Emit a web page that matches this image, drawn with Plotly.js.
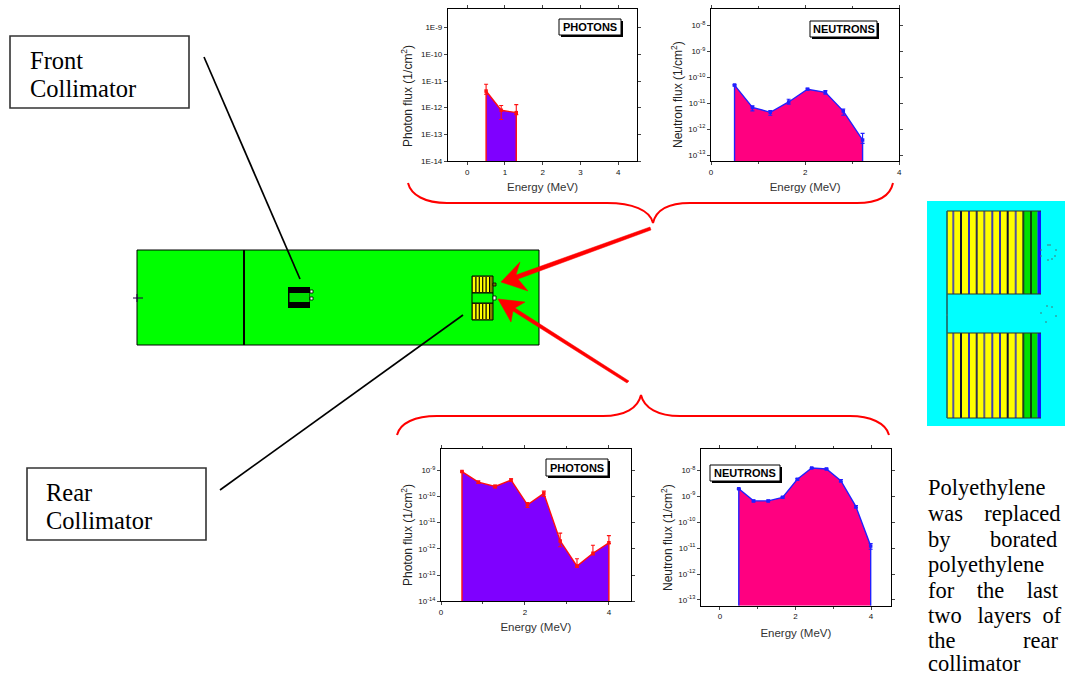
<!DOCTYPE html>
<html>
<head>
<meta charset="utf-8">
<script src="https://cdn.plot.ly/plotly-3.0.1.min.js"></script>
<style>html,body{margin:0;padding:0;background:#fff}#g{width:1066px;height:677px}</style>
</head>
<body>
<div id="g"></div>
<script>
// ---- chart values ----
var frontPhotonE = [0.5, 0.9, 1.3];
var frontPhotonFlux = [4.2e-12, 8e-13, 6.5e-13];
var frontPhotonErrUp = [3.4e-12, 4e-13, 6.5e-13];
var frontPhotonErrDn = [1.0e-12, 4.4e-13, 1e-13];

var frontNeutronE = [0.5, 0.88, 1.26, 1.65, 2.05, 2.43, 2.81, 3.22];
var frontNeutronFlux = [4.9e-11, 6.8e-12, 4.4e-12, 1.1e-11, 3.4e-11, 2.6e-11, 4.9e-12, 3.8e-13];
var frontNeutronErrUp = [3e-12, 1e-12, 7e-13, 3e-12, 3e-12, 4e-12, 1e-12, 3e-13];
var frontNeutronErrDn = [3e-12, 1.8e-12, 1e-12, 2e-12, 3e-12, 4e-12, 1.5e-12, 1e-13];

var rearPhotonE = [0.5, 0.89, 1.29, 1.67, 2.06, 2.45, 2.84, 3.24, 3.62, 4.0];
var rearPhotonFlux = [8.9e-10, 3.5e-10, 2.4e-10, 4.2e-10, 4.8e-11, 1.3e-10, 2e-12, 2.2e-13, 6.8e-13, 1.7e-12];
var rearPhotonErrUp = [5e-11, 4e-11, 3e-11, 5e-11, 1e-11, 3e-11, 2e-12, 2e-13, 7e-13, 1.5e-12];
var rearPhotonErrDn = [5e-11, 4e-11, 3e-11, 5e-11, 1e-11, 3e-11, 0.8e-12, 2e-14, 1e-13, 1e-13];

var rearNeutronE = [0.5, 0.89, 1.28, 1.66, 2.05, 2.43, 2.82, 3.2, 3.6, 3.99];
var rearNeutronFlux = [1.9e-9, 6.5e-10, 6.5e-10, 8.9e-10, 4.4e-9, 1.2e-8, 1.1e-8, 3.9e-9, 3.9e-10, 1.2e-11];
var rearNeutronErr = [1e-10, 5e-11, 5e-11, 6e-11, 3e-10, 6e-10, 6e-10, 4e-10, 4e-11, 3e-12];

var expTicksA = [1e-9, 1e-10, 1e-11, 1e-12, 1e-13, 1e-14];
var expLabelsA = ['1E-9', '1E-10', '1E-11', '1E-12', '1E-13', '1E-14'];
var expTicksB = [1e-8, 1e-9, 1e-10, 1e-11, 1e-12, 1e-13];
var expLabelsB = ['10<sup>-8</sup>', '10<sup>-9</sup>', '10<sup>-10</sup>', '10<sup>-11</sup>', '10<sup>-12</sup>', '10<sup>-13</sup>'];
var expTicksC = [1e-9, 1e-10, 1e-11, 1e-12, 1e-13, 1e-14];
var expLabelsC = ['10<sup>-9</sup>', '10<sup>-10</sup>', '10<sup>-11</sup>', '10<sup>-12</sup>', '10<sup>-13</sup>', '10<sup>-14</sup>'];

var nb = function(n){ return new Array(n + 1).join('\u00A0'); };
var paragraphLines = [
  'Polyethylene',
  'was' + nb(3) + '\u2009replaced',
  'by' + nb(7) + 'borated',
  'polyethylene',
  'for' + nb(4) + 'the' + nb(4) + 'last',
  'two' + nb(2) + '\u2009layers' + nb(2) + 'of',
  'the' + nb(12) + 'rear',
  'collimator'
];

// ---- helpers: page pixels -> paper fractions (margins are 0) ----
var W = 1066, H = 677;
function fx(p){ return p / W; }
function fy(p){ return 1 - p / H; }
function dom0(a, b){ return [fx(a), fx(b)]; }
function domY(top, bot){ return [fy(bot), fy(top)]; }
function path(s){
  var i = 0;
  return s.replace(/-?\d+(\.\d+)?/g, function(n){
    var v = parseFloat(n); var r = (i % 2 === 0) ? fx(v) : fy(v); i++; return r.toFixed(6);
  });
}
var shapes = [], annots = [];
function rect(x0, y0, x1, y1, fill, line, lw){
  shapes.push({type:'rect', xref:'paper', yref:'paper', x0:fx(x0), x1:fx(x1), y0:fy(y0), y1:fy(y1),
    fillcolor:fill, line:{color:line || fill, width: lw === undefined ? 0 : lw}});
}
function seg(x0, y0, x1, y1, color, lw){
  shapes.push({type:'line', xref:'paper', yref:'paper', x0:fx(x0), x1:fx(x1), y0:fy(y0), y1:fy(y1),
    line:{color:color, width:lw}});
}
function curve(d, color, lw, fill){
  var o = {type:'path', xref:'paper', yref:'paper', path:path(d), line:{color:color, width:lw}};
  if (fill) o.fillcolor = fill;
  shapes.push(o);
}
function label(x, y, text, size, family, opts){
  var a = {xref:'paper', yref:'paper', x:fx(x), y:fy(y), text:text, showarrow:false,
    xanchor:'left', yanchor:'middle', font:{family:family, size:size, color:'#000'}, borderpad:0, borderwidth:0};
  for (var k in (opts || {})) a[k] = opts[k];
  annots.push(a);
}

var sans = '"Liberation Sans", Arial, sans-serif';
var serif = '"Liberation Serif", "Times New Roman", serif';

// ---- data traces ----
var traces = [];
function addPanel(id, xs, ys, up, dn, floor, fill, edge){
  var xa = 'x' + id, ya = 'y' + id;
  var ex = [xs[0]].concat(xs, [xs[xs.length - 1]]);
  var ey = [floor].concat(ys, [floor]);
  traces.push({x:ex, y:ey, xaxis:xa, yaxis:ya, mode:'lines', fill:'toself', fillcolor:fill,
    line:{color:edge, width:1.4}, hoverinfo:'skip', showlegend:false});
  traces.push({x:xs, y:ys, xaxis:xa, yaxis:ya, mode:'markers', marker:{color:edge, size:3.5, symbol:'square'},
    error_y:{type:'data', symmetric:false, array:up, arrayminus:dn, color:edge, thickness:1.1, width:2},
    showlegend:false});
}
var purple = '#7F00FF', pink = '#FF0080', red = '#FF1010', blue = '#2020FF';
addPanel('', frontPhotonE, frontPhotonFlux, frontPhotonErrUp, frontPhotonErrDn, 1e-14, purple, red);
addPanel('2', frontNeutronE, frontNeutronFlux, frontNeutronErrUp, frontNeutronErrDn, 5.9e-14, pink, blue);
addPanel('3', rearPhotonE, rearPhotonFlux, rearPhotonErrUp, rearPhotonErrDn, 1e-14, purple, red);
addPanel('4', rearNeutronE, rearNeutronFlux, rearNeutronErr, rearNeutronErr, 6e-14, pink, blue);

function xAxis(a, b, range, dtick, minorTick, anchor, standoff){
  var o = {domain:dom0(a, b), range:range, anchor:anchor, dtick:dtick, tick0:0, ticks:'outside', ticklen:3, tickwidth:1,
    showgrid:false, zeroline:false, showline:true, linecolor:'#000', linewidth:1.2, mirror:'ticks',
    tickfont:{family:sans, size:8, color:'#111'},
    title:{text:'Energy (MeV)', font:{family:sans, size:11.5, color:'#333'}, standoff:standoff}};
  if (minorTick) o.minor = {dtick:minorTick, tick0:0, ticks:'outside', ticklen:2, tickwidth:1, showgrid:false};
  return o;
}
function yAxis(top, bot, range, tv, tt, anchor){
  return {type:'log', domain:domY(top, bot), range:range, anchor:anchor, tickmode:'array', tickvals:tv, ticktext:tt,
    ticks:'outside', ticklen:3, tickwidth:1, showgrid:false, zeroline:false, showline:true, linecolor:'#000', linewidth:1.2, mirror:'ticks',
    tickfont:{family:sans, size:8, color:'#111'}};
}

var pTitle = 'Photon flux (1/cm<sup>2</sup>)', nTitle = 'Neutron flux (1/cm<sup>2</sup>)';
function yTitle(x, y, text){
  label(x, y, text, 12, sans, {textangle:-90, xanchor:'center', yanchor:'middle', font:{family:sans, size:12, color:'#222'}});
}
yTitle(407, 96, pTitle);
yTitle(677, 95, nTitle);
yTitle(407, 535, pTitle);
yTitle(667, 538, nTitle);

// ---- diagram: shielding tunnel ----
rect(137, 250, 539, 345, '#00FF00', '#000', 1);
seg(244, 250, 244, 345, '#000', 2);
seg(133, 298, 143, 298, '#200040', 1);
seg(137, 294, 137, 302, '#200040', 1);

// front collimator
rect(288, 287, 310, 308, '#000');
rect(289.5, 293, 309.5, 302, '#00E000');
rect(310, 290, 313, 293, '#fff', '#000', 0.8);
rect(310, 297, 313, 300, '#fff', '#000', 0.8);

// rear collimator (blocks, stripes, gap)
function rearBlock(t, b){
  rect(472, t, 493, b, '#808000', '#000', 1);
  for (var i = 0; i < 5; i++) rect(473 + i * 3.4, t + 1, 475.4 + i * 3.4, b - 1, '#FFFF00');
  for (var j = 0; j < 5; j++) rect(475.4 + j * 3.4, t + 1, 476.4 + j * 3.4, b - 1, '#000');
}
rearBlock(276, 293);
rearBlock(303, 320);
rect(472, 293, 493, 303, '#00FF00', '#000', 1);
rect(493, 283, 496, 286, '#708000', '#000', 0.8);
rect(493, 296, 496, 300, '#fff', '#000', 0.8);

// leader lines
seg(204, 57, 300, 279, '#000', 1.7);
seg(220, 490, 463, 315, '#000', 1.7);

// callout boxes
rect(10, 36, 189, 108, '#fff', '#333', 1.6);
label(30, 61, 'Front', 24.5, serif);
label(30, 89, 'Collimator', 24.5, serif);
rect(27, 468, 206, 540, '#fff', '#333', 1.6);
label(46, 492, 'Rear', 24.5, serif);
label(46, 520, 'Collimator', 24.5, serif);

// braces
curve('M 408 183 C 411 195 425 203 447 203 L 607 203 C 632 203 650 210 653 223 C 656 210 668 203 690 203 L 857 203 C 878 203 890 197 893 183',
  '#FF0000', 2);
curve('M 397 435 C 400 423 415 416 437 416 L 603 416 C 625 416 638 408 641 395 C 644 408 658 416 680 416 L 850 416 C 870 416 886 423 889 435',
  '#FF0000', 2);

// arrows
curve('M 501 282 L 520 262 L 516 275 L 650 227 L 651 230 L 518 279 L 528 291 Z', '#FF0000', 0.5, '#FF0000');
curve('M 498 299 L 525 302 L 515 308 L 629 381 L 627 383 L 513 311 L 511 322 Z', '#FF0000', 0.5, '#FF0000');

// right inset: collimator detail
rect(927, 201, 1065, 426, '#00FFFF');
function insetBlock(t, b){
  rect(947, t, 1023, b, '#FFFF00');
  rect(1023, t, 1037.5, b, '#00E000');
  rect(1037.5, t, 1041, b, '#1010FF');
  var divs = [953.3, 961, 969, 976.7, 984.3, 992.3, 1000, 1007.7, 1015.7, 1023.3, 1031];
  var cols = ['#5555A0', '#101030', '#3030C0', '#303050', '#606080', '#4040B0', '#3030B0', '#101030', '#5555A0', '#204020', '#104010'];
  for (var i = 0; i < divs.length; i++) rect(divs[i] - 1, t, divs[i] + 1, b, cols[i]);
  seg(947, t, 1041, t, '#303020', 1);
  seg(947, b, 1041, b, '#303020', 1);
}
insetBlock(211, 294);
insetBlock(333, 418);
seg(947, 211, 947, 418, '#206060', 1.6);
var dotsX = [1041, 1048, 1050, 1056, 1055, 1048, 1052, 1041, 1041, 1047, 1052, 1056, 1046, 947];
var dotsY = [250, 245, 245, 250, 256, 260, 259, 256, 313, 306, 307, 316, 322, 315];
for (var d = 0; d < dotsX.length; d++) rect(dotsX[d] - 0.7, dotsY[d] - 0.7, dotsX[d] + 0.7, dotsY[d] + 0.7, '#408080');

// panel name boxes
function tag(x0, y0, x1, y1, text){
  rect(x0 + 2, y0 + 2, x1 + 2, y1 + 2, '#000');
  rect(x0, y0, x1, y1, '#fff', '#000', 1);
  label((x0 + x1) / 2, (y0 + y1) / 2, text, 11, sans, {xanchor:'center', font:{family:sans, size:11, color:'#000', weight:700}});
}
tag(559, 19, 621, 35, 'PHOTONS');
tag(810, 21, 877, 37, 'NEUTRONS');
tag(546, 459, 608, 476, 'PHOTONS');
tag(710, 465, 780, 481, 'NEUTRONS');

// paragraph
var paraY = [487, 513, 539, 564, 590, 615, 640, 663];
for (var p = 0; p < paragraphLines.length; p++) label(927.5, paraY[p], paragraphLines[p], 22.5, serif);

var layout = {
  width: W, height: H, margin:{l:0, r:0, t:0, b:0, pad:0}, showlegend:false,
  paper_bgcolor:'#fff', plot_bgcolor:'#fff', hovermode:false,
  xaxis:  xAxis(448, 637, [-0.51, 4.5], 1, 0, 'y', 7),
  yaxis:  yAxis(9, 161, [-14, -8.3], expTicksA, expLabelsA, 'x'),
  xaxis2: xAxis(711, 899.3, [0, 4], 2, 1, 'y2', 7),
  yaxis2: yAxis(9, 161, [-13.23, -7.38], expTicksB, expLabelsB, 'x2'),
  xaxis3: xAxis(441, 630.7, [0, 4.52], 2, 1, 'y3', 6),
  yaxis3: yAxis(449, 601.3, [-14, -8.19], expTicksC, expLabelsC, 'x3'),
  xaxis4: xAxis(701, 890.7, [-0.5, 4.52], 2, 1, 'y4', 8),
  yaxis4: yAxis(449, 605.7, [-13.22, -7.19], expTicksB, expLabelsB, 'x4'),
  shapes: shapes, annotations: annots
};
Plotly.newPlot('g', traces, layout, {displayModeBar:false, responsive:false});
</script>
</body>
</html>
